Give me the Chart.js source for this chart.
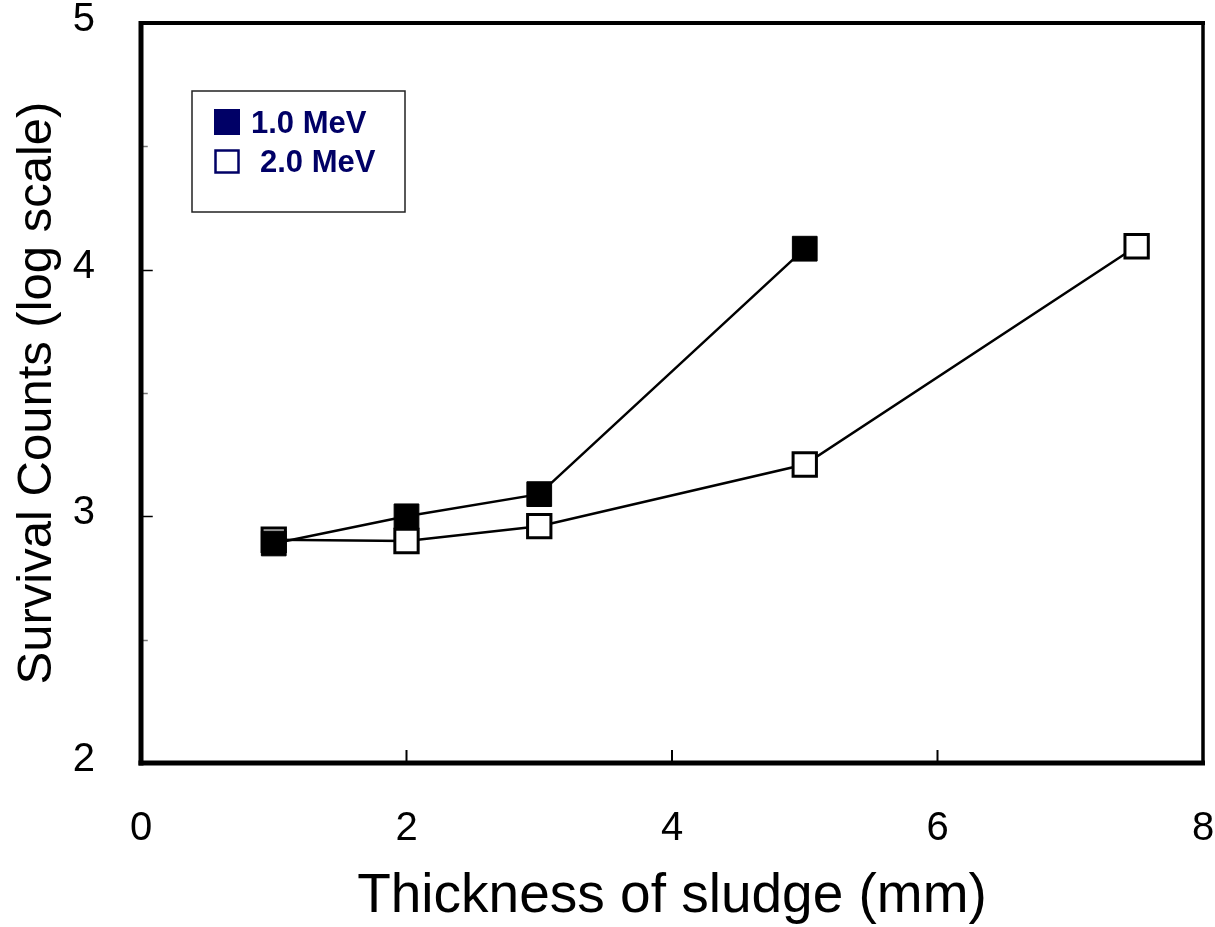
<!DOCTYPE html>
<html>
<head>
<meta charset="utf-8">
<title>Survival counts vs sludge thickness</title>
<script src="https://cdn.jsdelivr.net/npm/chart.js@4.4.1/dist/chart.umd.min.js"></script>
<style>
  html, body { margin: 0; padding: 0; background: #fff; }
  canvas { display: block; }
</style>
</head>
<body>
<canvas id="chart" width="1215" height="927"></canvas>
<script>
// Data
const SERIES_LABELS = ["1.0 MeV", "2.0 MeV"];
const thickness1MeV = [1, 2, 3, 5];
const counts1MeV = [2.89, 3.0, 3.09, 4.085];
const thickness2MeV = [1, 2, 3, 5, 7.5];
const counts2MeV = [2.905, 2.9, 2.96, 3.21, 4.095];

const X_MIN = 0, X_MAX = 8, X_STEP = 2;
const Y_MIN = 2, Y_MAX = 5, Y_STEP = 0.5;

const FONT = "'Liberation Sans', Arial, Helvetica, sans-serif";
const LEGEND_COLOR = "#000066";

function toPoints(xs, ys) {
  return xs.map((x, i) => ({ x: x, y: ys[i] }));
}

// Frame round the plot area plus inward tick marks
const framePlugin = {
  id: "frame",
  afterDraw(chart) {
    const { ctx, chartArea: a, scales } = chart;
    ctx.save();
    ctx.strokeStyle = "#000";
    ctx.lineCap = "square";

    // inward ticks on the x axis
    ctx.lineWidth = 2;
    scales.x.ticks.forEach((t) => {
      if (t.value <= X_MIN || t.value >= X_MAX) return;
      const px = scales.x.getPixelForValue(t.value);
      ctx.beginPath();
      ctx.moveTo(px, a.bottom);
      ctx.lineTo(px, a.bottom - 12);
      ctx.stroke();
    });

    // inward ticks on the y axis, shorter and lighter at the halves
    ctx.lineWidth = 1.5;
    scales.y.ticks.forEach((t) => {
      if (t.value <= Y_MIN || t.value >= Y_MAX) return;
      const py = Math.round(scales.y.getPixelForValue(t.value)) + 0.5;
      const major = Number.isInteger(t.value);
      ctx.strokeStyle = major ? "#000" : "#777";
      ctx.beginPath();
      ctx.moveTo(a.left, py);
      ctx.lineTo(a.left + (major ? 11 : 6), py);
      ctx.stroke();
    });

    ctx.strokeStyle = "#000";
    ctx.lineCap = "butt";
    // top
    ctx.lineWidth = 4;
    ctx.beginPath();
    ctx.moveTo(a.left - 2, a.top);
    ctx.lineTo(a.right + 2, a.top);
    ctx.stroke();
    // right
    ctx.lineWidth = 3.5;
    ctx.beginPath();
    ctx.moveTo(a.right, a.top);
    ctx.lineTo(a.right, a.bottom);
    ctx.stroke();
    // left
    ctx.lineWidth = 5;
    ctx.beginPath();
    ctx.moveTo(a.left, a.top - 2);
    ctx.lineTo(a.left, a.bottom + 2.5);
    ctx.stroke();
    // bottom
    ctx.beginPath();
    ctx.moveTo(a.left - 2.5, a.bottom);
    ctx.lineTo(a.right + 2, a.bottom);
    ctx.stroke();
    ctx.restore();
  },
};

// Boxed legend inside the plot, upper left
const legendBoxPlugin = {
  id: "legendBox",
  afterDraw(chart) {
    const { ctx, chartArea: a } = chart;
    const bx = a.left + 51, by = a.top + 68, bw = 213, bh = 121;
    ctx.save();
    ctx.lineWidth = 1.5;
    ctx.strokeStyle = "#222";
    ctx.strokeRect(bx, by, bw, bh);

    ctx.font = "bold 31px " + FONT;
    ctx.textBaseline = "alphabetic";
    ctx.fillStyle = LEGEND_COLOR;

    // filled square, 1.0 MeV
    ctx.fillRect(bx + 22, by + 18, 26, 26);
    ctx.fillText(SERIES_LABELS[0], bx + 59, by + 42);

    // open square, 2.0 MeV
    ctx.strokeStyle = LEGEND_COLOR;
    ctx.lineWidth = 2.5;
    ctx.strokeRect(bx + 23.5, by + 59.5, 23, 22);
    ctx.fillText(SERIES_LABELS[1], bx + 68, by + 81);
    ctx.restore();
  },
};

const ctx = document.getElementById("chart").getContext("2d");

new Chart(ctx, {
  type: "line",
  data: {
    datasets: [
      {
        label: SERIES_LABELS[0],
        data: toPoints(thickness1MeV, counts1MeV),
        borderColor: "#000",
        borderWidth: 2.5,
        pointStyle: "rect",
        pointRadius: 17.5,
        pointHoverRadius: 17.5,
        pointBackgroundColor: "#000",
        pointBorderColor: "#000",
        pointBorderWidth: 1,
        tension: 0,
        fill: false,
      },
      {
        label: SERIES_LABELS[1],
        data: toPoints(thickness2MeV, counts2MeV),
        borderColor: "#000",
        borderWidth: 2.5,
        pointStyle: "rect",
        pointRadius: 16.5,
        pointHoverRadius: 16.5,
        pointBackgroundColor: "#fff",
        pointBorderColor: "#000",
        pointBorderWidth: 3,
        tension: 0,
        fill: false,
      },
    ],
  },
  options: {
    responsive: false,
    animation: false,
    clip: false,
    layout: {
      autoPadding: false,
      padding: { top: 23, right: 12, left: 0, bottom: 0 },
    },
    plugins: {
      legend: { display: false },
      tooltip: { enabled: false },
    },
    scales: {
      x: {
        type: "linear",
        min: X_MIN,
        max: X_MAX,
        grid: { display: false },
        border: { display: false },
        ticks: {
          stepSize: X_STEP,
          padding: 34,
          color: "#000",
          font: { family: FONT, size: 40 },
          maxRotation: 0,
        },
        title: {
          display: true,
          text: "Thickness of sludge (mm)",
          color: "#000",
          font: { family: FONT, size: 55, lineHeight: 1.1 },
          padding: { top: 0, bottom: 0 },
        },
        afterFit(scale) {
          scale.height = 164;
          scale.paddingLeft = 0;
          scale.paddingRight = 0;
        },
      },
      y: {
        type: "linear",
        min: Y_MIN,
        max: Y_MAX,
        grid: { display: false },
        border: { display: false },
        ticks: {
          stepSize: Y_STEP,
          autoSkip: false,
          padding: 38,
          labelOffset: -3,
          color: "#000",
          font: { family: FONT, size: 40 },
          callback: (v) => (Number.isInteger(v) ? String(v) : ""),
        },
        title: {
          display: true,
          text: "Survival Counts (log scale)",
          color: "#000",
          font: { family: FONT, size: 49, lineHeight: 1.2 },
          padding: { top: 8, bottom: 0 },
        },
        afterFit(scale) {
          scale.width = 141;
          scale.paddingTop = 0;
          scale.paddingBottom = 0;
        },
      },
    },
  },
  plugins: [framePlugin, legendBoxPlugin],
});
</script>
</body>
</html>
